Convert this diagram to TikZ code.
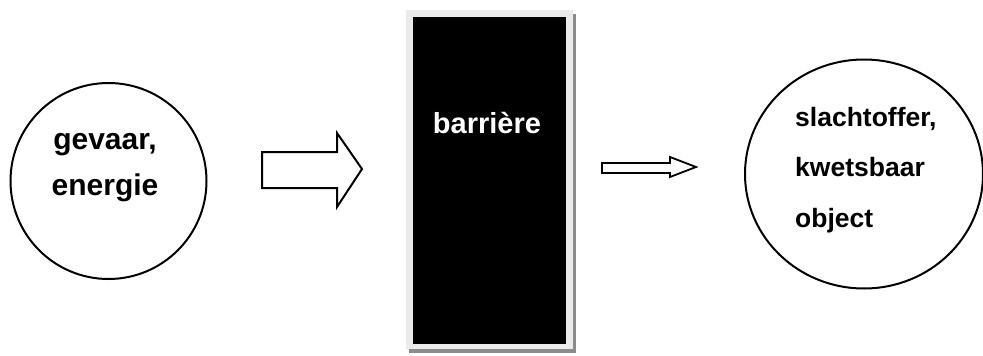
\documentclass[tikz,border=0pt]{standalone}
\usepackage{fontspec}
\setmainfont{Liberation Sans}
\usetikzlibrary{shapes.geometric}
\tikzset{
  lbl/.style={font=\bfseries\fontsize{29}{46}\selectfont, inner sep=0pt},
  ring/.style={draw=black, line width=2pt},
  blockarrow/.style={draw=black, line width=2pt, fill=white, line join=miter},
}
\begin{document}
\begin{tikzpicture}[x=1pt,y=-1pt]
\useasboundingbox (0,0) rectangle (983,356);
% left circle
\node[ring, circle, minimum size=196pt, inner sep=0pt] (haz) at (108.5,181) {};
\node[lbl, align=center, font=\bfseries\fontsize{30}{46}\selectfont] (hazt) at (105,168) {gevaar,\\energie};
% big block arrow
\draw[blockarrow] (262,152) -- (337,152) -- (337,133) -- (362,169) -- (337,207) -- (337,188) -- (262,188) -- cycle;
% barrier
\fill[black!45] (409,14) rectangle (576,353);
\fill[black!8] (406,10) rectangle (573,349);
\node[fill=black, minimum width=153pt, minimum height=327pt, inner sep=0pt, anchor=north west] (bar) at (413,17) {};
\node[lbl, text=white] (bart) at (487,123) {barrière};
% small block arrow
\draw[blockarrow, line width=1.8pt] (602,163) -- (670,163) -- (670,157) -- (696,167) -- (670,177) -- (670,173) -- (602,173) -- cycle;
% right ellipse
\node[ring, ellipse, minimum width=238pt, minimum height=229pt, inner sep=0pt] (vic) at (864,174) {};
\node[lbl, align=left, anchor=west, font=\bfseries\fontsize{26.5}{50.5}\selectfont] (vict) at (795,170) {slachtoffer,\\kwetsbaar\\object};
\end{tikzpicture}
\end{document}
